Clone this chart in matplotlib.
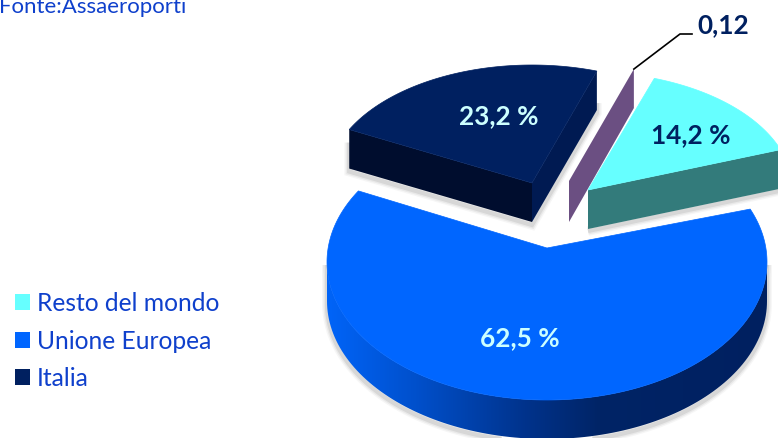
import numpy as np
import matplotlib
matplotlib.use("Agg")
import matplotlib.pyplot as plt
from matplotlib.colors import LinearSegmentedColormap
from matplotlib.patches import Patch, Polygon

plt.rcParams['font.family'] = ['Lato', 'DejaVu Sans']

# Data
categories = ["Resto del mondo", "Unione Europea", "Italia"]
legend_colors = ["#66FFFF", "#0066FF", "#002060"]
val_resto = 14.2
val_thin = 0.12
val_italia = 23.2
val_ue = 62.5
label_resto = "14,2 %"
label_thin = "0,12"
label_italia = "23,2 %"
label_ue = "62,5 %"
source = "Fonte:Assaeroporti"

text_blue = "#0F40CC"
light_text = "#CCFFFF"
dark_text = "#002060"

# Pie geometry in pixels; the back slices sit on a flatter, smaller ellipse
START = 20.0
BACK_RX, BACK_RY = 205, 118
FRONT_RX, FRONT_RY = 220, 138
FRONT_C = (547, 262)
FRONT_APEX = (547, 248)
DEPTH = 39


def deg(v):
    return v * 3.6


def arc(cx, cy, rx, ry, a0, a1, n=120):
    t = np.radians(np.linspace(a0, a1, n))
    return cx + rx * np.cos(t), cy - ry * np.sin(t)


def shadow(ax, x, y, dy=3, closed=True):
    for lw, al in [(7, 0.05), (5, 0.08), (3, 0.12)]:
        ax.add_patch(Polygon(np.c_[x, y + dy], closed=closed, fc="none", ec="#555555",
                             lw=lw, alpha=al, zorder=1))


def back_point(apex, a):
    t = np.radians(a)
    return apex[0] + BACK_RX * np.cos(t), apex[1] - BACK_RY * np.sin(t)


fig = plt.figure(figsize=(7.78, 4.38), dpi=100)
ax = fig.add_axes([0, 0, 1, 1])

# Unione Europea: perspective stretches its sweep a little on the page
front_a0 = 149.0
front_a1 = front_a0 + deg(val_ue) * 1.038
ax_x, ax_y = arc(*FRONT_C, FRONT_RX, FRONT_RY, 180, 360)
side_x = np.r_[ax_x, ax_x[::-1]]
side_y = np.r_[ax_y, ax_y[::-1] + DEPTH]
shadow(ax, side_x, side_y)

cmap = LinearSegmentedColormap.from_list(
    "side", [(0, "#0064F8"), (0.2, "#0050CC"), (0.45, "#00338C"), (0.62, "#002466"), (1, "#002060")])
grad = np.linspace(0, 1, 256).reshape(1, -1)
im = ax.imshow(grad, cmap=cmap, aspect="auto", zorder=2,
               extent=(FRONT_C[0] - FRONT_RX, FRONT_C[0] + FRONT_RX, 450, 250))
clip = Polygon(np.c_[side_x, side_y], closed=True, fc="none", ec="none", zorder=2)
ax.add_patch(clip)
im.set_clip_path(clip)

fx, fy = arc(*FRONT_C, FRONT_RX, FRONT_RY, front_a0, front_a1, 240)
ax.fill(np.r_[FRONT_APEX[0], fx], np.r_[FRONT_APEX[1], fy], color="#0066FF", lw=0.5, zorder=3)

# Italia, its sweep slightly squeezed by the same perspective
it_apex = (532, 183)
it_a0 = START + deg(val_resto) + deg(val_thin)
it_a1 = it_a0 + deg(val_italia) * 0.976
ix, iy = arc(*it_apex, BACK_RX, BACK_RY, it_a0, it_a1)
lx, ly = back_point(it_apex, it_a1)
rx, ry = back_point(it_apex, it_a0)
face_l = np.array([[lx, ly], it_apex, [it_apex[0], it_apex[1] + DEPTH], [lx, ly + DEPTH]])
face_r = np.array([[rx, ry], it_apex, [it_apex[0], it_apex[1] + DEPTH], [rx, ry + DEPTH]])
low_edge = np.array([[lx, ly + 10], [lx, ly + DEPTH], [it_apex[0], it_apex[1] + DEPTH],
                     [rx, ry + DEPTH], [rx, ry + DEPTH - 10]])
shadow(ax, low_edge[:, 0], low_edge[:, 1], closed=False)
ax.add_patch(Polygon(face_l, closed=True, fc="#000D2E", ec="none", zorder=3))
ax.add_patch(Polygon(face_r, closed=True, fc="#001A52", ec="none", zorder=3))
ax.fill(np.r_[it_apex[0], ix], np.r_[it_apex[1], iy], color=dark_text, lw=0.5, zorder=4)

# Thin slice: only its side face shows
th_apex = (569, 181)
th_a = START + deg(val_resto) + deg(val_thin)
tx, ty = back_point(th_apex, th_a)
ax.add_patch(Polygon([[tx, ty], th_apex, [th_apex[0], th_apex[1] + DEPTH + 2], [tx, ty + DEPTH]],
                     closed=True, fc="#6B4F82", ec="none", zorder=4))

# Resto del mondo
re_apex = (588, 190)
re_a0 = START
re_a1 = START + deg(val_resto)
cx, cy = arc(*re_apex, BACK_RX, BACK_RY, re_a0, re_a1)
ex, ey = back_point(re_apex, re_a0)
face = np.array([re_apex, [ex, ey], [ex, ey + DEPTH], [re_apex[0], re_apex[1] + DEPTH]])
shadow(ax, face[2:, 0], face[2:, 1], dy=2, closed=False)
ax.add_patch(Polygon(face, closed=True, fc="#337B7B", ec="none", zorder=4))
ax.fill(np.r_[re_apex[0], cx], np.r_[re_apex[1], cy], color="#66FFFF", lw=0.5, zorder=5)

# Leader line for the thin slice
ax.plot([tx, 680, 692], [ty, 34, 34], color="black", lw=1.2, zorder=6)

# Labels
lab = dict(fontsize=18.8, fontweight="bold", ha="center", va="center", zorder=7)
ax.text(499, 116, label_italia, color=light_text, **lab)
ax.text(691, 135, label_resto, color=dark_text, **lab)
ax.text(520, 338, label_ue, color=light_text, **lab)
ax.text(723, 25, label_thin, color=dark_text, **lab)

# The source line is cut by the top edge in the reference too
ax.text(-1, 13, source, color=text_blue, fontsize=16, ha="left", va="baseline")

handles = [Patch(color=c, lw=0) for c in legend_colors]
leg = ax.legend(handles, categories, loc="upper left", bbox_to_anchor=(15 / 778, 1 - 292 / 438),
                frameon=False, fontsize=17.7, labelcolor=text_blue, handlelength=0.61,
                handleheight=0.61, handletextpad=0.27, labelspacing=0.59,
                borderaxespad=0, borderpad=0)

ax.set_xlim(0, 778)
ax.set_ylim(438, 0)
ax.axis("off")

fig.savefig("out.png", dpi=100)
